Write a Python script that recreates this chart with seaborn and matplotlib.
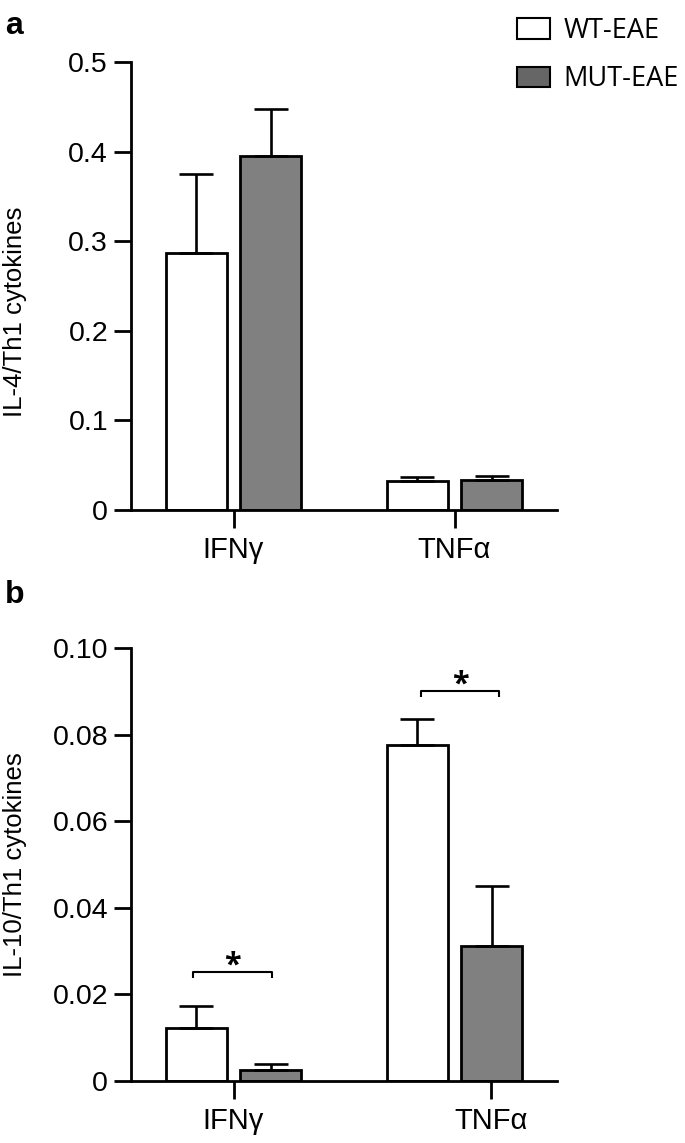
import numpy as np
import pandas as pd
import seaborn as sns
import matplotlib
matplotlib.use("Agg")
import matplotlib.pyplot as plt
from matplotlib.patches import Patch
from matplotlib.ticker import FuncFormatter

# data
cytokines = ["IFNγ", "TNFα"]
groups = ["WT-EAE", "MUT-EAE"]

il4_wt = [0.287, 0.032]
il4_mut = [0.395, 0.034]
il4_wt_sem = [0.088, 0.0045]
il4_mut_sem = [0.053, 0.0045]

il10_wt = [0.0123, 0.0777]
il10_mut = [0.0025, 0.0313]
il10_wt_sem = [0.0051, 0.0059]
il10_mut_sem = [0.0015, 0.0137]

# significance brackets for panel b: (x left, x right, height)
sig_left = [-0.183, 0.848]
sig_right = [0.174, 1.201]
sig_height = [0.0252, 0.0901]

sns.set_style("ticks")
plt.rcParams["font.family"] = ["Liberation Sans", "DejaVu Sans"]
plt.rcParams["axes.linewidth"] = 2.0
for key in ["text.color", "axes.labelcolor", "xtick.color", "ytick.color", "axes.edgecolor"]:
    plt.rcParams[key] = "black"

colors = {"WT-EAE": "white", "MUT-EAE": "#808080"}


def make_df(wt, mut):
    return pd.DataFrame({
        "cytokine": cytokines * 2,
        "group": [groups[0]] * 2 + [groups[1]] * 2,
        "ratio": list(wt) + list(mut),
    })


def draw_panel(ax, df, sems, ylim, yticks, fmt, label):
    sns.barplot(data=df, x="cytokine", y="ratio", hue="group", order=cytokines,
                hue_order=groups, palette=colors, edgecolor="black", linewidth=2,
                width=0.67, gap=0.18, errorbar=None, legend=False, ax=ax)
    for cont, sem in zip(ax.containers, sems):
        xs = [p.get_x() + p.get_width() / 2 for p in cont]
        ys = [p.get_height() for p in cont]
        ax.errorbar(xs, ys, yerr=[np.zeros(len(sem)), sem], fmt="none",
                    ecolor="black", elinewidth=1.9, capsize=12.5, capthick=1.9,
                    zorder=1)
    ax.set_xlim(-0.464, 1.464)
    ax.set_ylim(*ylim)
    ax.set_yticks(yticks)
    ax.yaxis.set_major_formatter(FuncFormatter(fmt))
    sns.despine(ax=ax)
    ax.spines["left"].set_bounds(ylim[0], ylim[1])
    ax.tick_params(axis="y", length=12.5, width=2, labelsize=20.5, pad=4)
    ax.tick_params(axis="x", length=13, width=2, labelsize=21, pad=6)
    ax.set_xlabel("")
    ax.set_ylabel(label, fontsize=18.5)


fig = plt.figure(figsize=(6.85, 11.43), dpi=100)
ax_a = fig.add_axes([0.1912, 0.5538, 0.622, 0.392])
ax_b = fig.add_axes([0.1912, 0.0542, 0.622, 0.3788])

draw_panel(ax_a, make_df(il4_wt, il4_mut), [il4_wt_sem, il4_mut_sem],
           (0, 0.5), np.arange(0, 0.51, 0.1),
           lambda v, p: "0" if v == 0 else f"{v:.1f}", "IL-4/Th1 cytokines")
ax_a.set_xticks([0, 1])
ax_a.set_xticklabels(cytokines)
ax_a.yaxis.set_label_coords(-0.245, 0.443)

draw_panel(ax_b, make_df(il10_wt, il10_mut), [il10_wt_sem, il10_mut_sem],
           (0, 0.10), np.arange(0, 0.101, 0.02),
           lambda v, p: "0" if v == 0 else f"{v:.2f}", "IL-10/Th1 cytokines")
ax_b.set_xticks([0, 1.167])
ax_b.set_xticklabels(cytokines)
ax_b.yaxis.set_label_coords(-0.245, 0.499)

for x0, x1, h in zip(sig_left, sig_right, sig_height):
    drop = 0.0015
    ax_b.plot([x0, x0, x1, x1], [h - drop, h, h, h - drop], color="black",
              lw=1.5, solid_capstyle="butt", clip_on=False)
    ax_b.text((x0 + x1) / 2, h - 0.002, "*", ha="center", va="bottom",
              fontsize=22, fontweight="bold", family=["Open Sans", "DejaVu Sans"])

fig.text(0.007, 1 - 34 / 1143, "a", fontsize=23, fontweight="bold", va="baseline")
fig.text(0.007, 1 - 603 / 1143, "b", fontsize=23, fontweight="bold", va="baseline")

handles = [Patch(facecolor="white", edgecolor="black", linewidth=1.5),
           Patch(facecolor="#666666", edgecolor="black", linewidth=1.5)]
fig.legend(handles, groups, loc="upper left",
           bbox_to_anchor=(517 / 685, 1 - 17 / 1143), frameon=False,
           borderpad=0, borderaxespad=0, handlelength=1.22, handleheight=0.8,
           handletextpad=0.5, labelspacing=0.75,
           prop={"family": "Open Sans", "size": 19.5})

fig.savefig("out.png", dpi=100)
